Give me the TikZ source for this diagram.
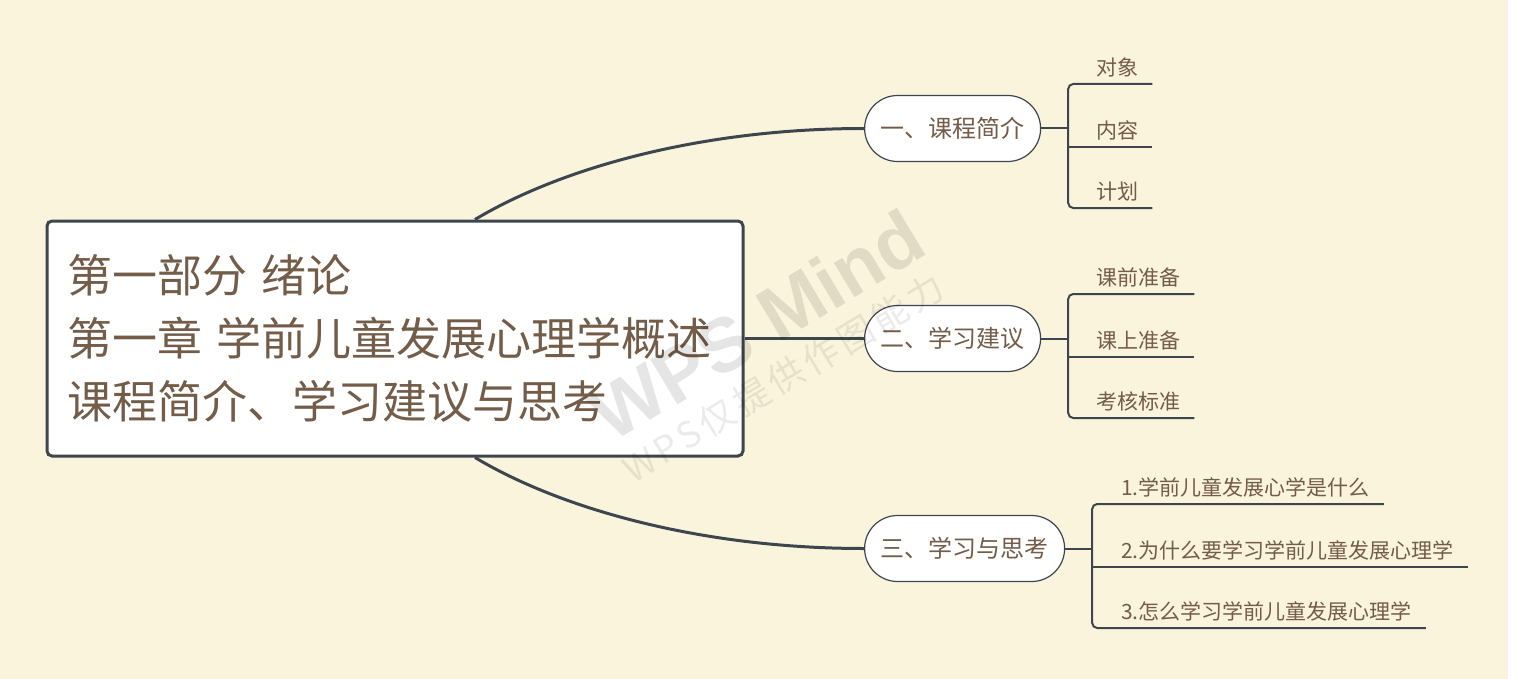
\documentclass[tikz,border=0pt]{standalone}
\usepackage{fontspec}
\setmainfont{Noto Sans CJK SC}
\newfontfamily\wmfont{Liberation Sans}
\definecolor{paper}{RGB}{251,244,221}
\definecolor{ink}{RGB}{115,92,72}
\definecolor{wire}{RGB}{61,70,79}
\begin{document}
\begin{tikzpicture}[
        x=1pt, y=-1pt,
        root/.style={draw=wire, line width=3pt, fill=white, rounded corners=5pt, text=ink, align=left, text width=656pt, inner xsep=20pt, minimum height=235pt, font=\fontsize{45}{63}\selectfont},
        topic/.style={draw=wire, line width=1.2pt, fill=white, rounded corners=33pt, anchor=west, text=ink, minimum height=66pt, inner xsep=16pt, font=\fontsize{24}{28}\selectfont},
        leaf/.style={anchor=south west, text=ink, inner xsep=0pt, inner ysep=7pt, font=\fontsize{21}{24}\selectfont},
        trunk/.style={draw=wire, line width=3pt},
        branch/.style={draw=wire, line width=2pt, rounded corners=5pt},
        wmbig/.style={rotate=31, text=black, text opacity=0.1, font=\wmfont\bfseries\fontsize{76}{80}\selectfont},
        wmsmall/.style={rotate=31, text=black, text opacity=0.08, font=\addfontfeatures{LetterSpace=12}\fontsize{36}{40}\selectfont}
        ]
        \fill[paper] (0,0) rectangle (1508,679);
        \fill[white] (1508,0) rectangle (1517,679);
        \useasboundingbox (0,0) rectangle (1517,679);

        \node[root] (root) at (395,338.5) {第一部分 绪论\\第一章 学前儿童发展心理学概述\\课程简介、学习建议与思考};
        \node[topic] (n1) at (864,128.5) {一、课程简介};
        \node[topic] (n2) at (864,338.5) {二、学习建议};
        \node[topic] (n3) at (864,548.5) {三、学习与思考};

        \draw[trunk] ([xshift=80pt]root.north) .. controls +(85,-51) and +(-164,0) .. (n1.west);
        \draw[trunk] (root.east) -- (n2.west);
        \draw[trunk] ([xshift=80pt]root.south) .. controls +(85,51) and +(-164,0) .. (n3.west);

        \node[leaf] (l11) at (1096,84) {对象};
        \node[leaf] (l12) at (1096,147) {内容};
        \node[leaf] (l13) at (1096,208) {计划};
        \node[leaf] (l21) at (1096,294) {课前准备};
        \node[leaf] (l22) at (1096,357) {课上准备};
        \node[leaf] (l23) at (1096,418) {考核标准};
        \node[leaf] (l31) at (1121,504) {1.学前儿童发展心学是什么};
        \node[leaf] (l32) at (1121,567) {2.为什么要学习学前儿童发展心理学};
        \node[leaf] (l33) at (1121,628) {3.怎么学习学前儿童发展心理学};

        \foreach \g in {1,2,3} {
            \coordinate (b\g) at ([xshift=27pt]n\g.east);
            \draw[branch] (n\g.east) -- (b\g);
            \draw[branch] ([xshift=14pt]l\g1.south east) -- (l\g1.south west -| b\g) -- (l\g3.south west -| b\g) -- ([xshift=14pt]l\g3.south east);
            \draw[branch] (l\g2.south west -| b\g) -- ([xshift=14pt]l\g2.south east);
        }

        \node[wmbig] (wm1) at (757,325) {WPS Mind};
        \node[wmsmall] (wm2) at (783,378) {WPS仅提供作图能力};
    \end{tikzpicture}
\end{document}
